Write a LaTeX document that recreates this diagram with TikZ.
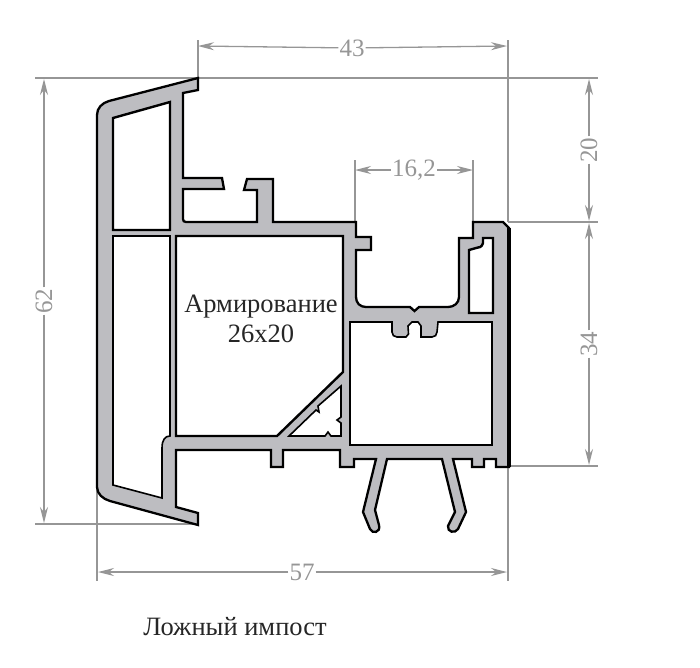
\documentclass[tikz,border=0pt]{standalone}
\usepackage{fontspec}
\setmainfont{Liberation Serif}
\usetikzlibrary{arrows.meta}
\definecolor{dimgray}{HTML}{969696}
\definecolor{profgray}{HTML}{BDBDC1}
\tikzset{
  profile/.style={draw=black, fill=profgray, line width=2.3pt, line join=miter},
  chamber/.style={draw=black, fill=white, line width=2.4pt, line join=miter},
  extline/.style={draw=dimgray, line width=1.3pt},
  dimline/.style={draw=dimgray, line width=1.3pt, -{Stealth[length=16pt,width=8pt]}},
  dimtext/.style={text=dimgray, font=\fontsize{25}{25}\selectfont, inner sep=1pt},
  labeltext/.style={text=black!85, font=\fontsize{26.5}{30}\selectfont, inner sep=0pt, align=center}
}
\begin{document}
\begin{tikzpicture}[x=1pt, y=-1pt]
    \useasboundingbox (0,0) rectangle (700,667);

    % Extension lines
    \draw[extline] (35,78) -- (598,78);
    \draw[extline] (35,524) -- (198,524);
    \draw[extline] (508,222) -- (598,222);
    \draw[extline] (508,466) -- (598,466);
    \draw[extline] (198,40) -- (198,78);
    \draw[extline] (508,40) -- (508,222);
    \draw[extline] (355,160) -- (355,222);
    \draw[extline] (473,160) -- (473,222);
    \draw[extline] (97,487) -- (97,581);
    \draw[extline] (508,466) -- (508,581);

    % Outer contour
    \draw[profile] (198,78) -- (198,90) -- (183,93) -- (183,178) -- (222,178) -- (224,189)
      -- (183,189) -- (183,219) .. controls (183,221) and (184,222) .. (186,222) -- (257,222)
      -- (257,190) -- (244,190) -- (247,179) -- (273,179) -- (273,222) -- (356,222) -- (356,237)
      -- (371,237) -- (371,250) -- (356,250) -- (356,297) .. controls (356,303) and (360,307) .. (366,307)
      -- (410,307) -- (414.5,311) -- (419,307) -- (448,307) .. controls (454,307) and (459,303) .. (459,297)
      -- (459,238) -- (473,238) -- (473,222) -- (503,222) -- (509,228) -- (509,467) -- (496,467)
      -- (496,459) -- (484,459) -- (484,467) -- (472,467) -- (472,459) -- (453,459) -- (466,512)
      -- (458,529) .. controls (455,534) and (447,532) .. (448,526) -- (455,512) -- (442,459)
      -- (387,459) -- (375,510) -- (379,525) .. controls (381,533) and (372,534) .. (370,529)
      -- (363,512) -- (376,459) -- (354,459) -- (354,467) -- (340,467) -- (340,450) -- (283,450)
      -- (283,467) -- (271,467) -- (271,450) -- (176,450) -- (176,507) -- (198,513) -- (198,525)
      -- (110,501) .. controls (103,499) and (97,494) .. (97,487) -- (97,115)
      .. controls (97,108) and (102,103) .. (109,101) -- cycle;

    % Thick right edge
    \draw[black, line width=3.5pt] (509,228) -- (509,467);

    % Chambers
    \draw[chamber] (113,118) -- (170,102) -- (170,230) -- (113,230) -- cycle;
    \draw[chamber, line width=1.6pt] (113,236) -- (170,236) -- (170,436) .. controls (165,436) and (162,440) .. (162,448)
      -- (162,498) -- (113,485) -- cycle;
    \draw[chamber] (176,236) -- (343,236) -- (343,372) -- (277,436) -- (176,436) -- cycle;
    \draw[chamber, line width=1.6pt] (289,436) -- (316,410) -- (319,412) -- (318,406) -- (341,386) -- (341,417)
      -- (337,420) -- (341,423) -- (341,436) -- (331,436) -- (328,432) -- (325,436) -- cycle;
    \draw[chamber, line width=1.6pt] (350,322) -- (392,322) -- (392,332) .. controls (392,335) and (394,337) .. (397,337)
      -- (406,337) -- (408.5,334) -- (408,326) -- (412,322) -- (418,322) -- (421,326) -- (421,337) -- (432,337)
      .. controls (435,337) and (437,335) .. (437,332) -- (438,322) -- (492,322) -- (492,445) -- (350,445) -- cycle;
    \draw[chamber] (469,313) -- (493,313) -- (493,238) -- (483,238) -- (483,243)
      .. controls (482,247) and (479,248) .. (476,248) -- (469,250) -- cycle;

    % Dimensions
    \node[dimtext] (t43) at (352,48) {43};
    \coordinate (a43l) at (198,46);
    \coordinate (a43r) at (507,46);
    \draw[dimline] (t43) -- (a43l);
    \draw[dimline] (t43) -- (a43r);

    \node[dimtext] (t162) at (414,170) {16,2};
    \coordinate (a162l) at (355,170);
    \coordinate (a162r) at (473,170);
    \draw[dimline] (t162) -- (a162l);
    \draw[dimline] (t162) -- (a162r);

    \node[dimtext, rotate=90] (t62) at (44,301) {62};
    \coordinate (a62t) at (44,79);
    \coordinate (a62b) at (44,523);
    \draw[dimline] (t62) -- (a62t);
    \draw[dimline] (t62) -- (a62b);

    \node[dimtext, rotate=90] (t20) at (589,150) {20};
    \coordinate (a20t) at (589,79);
    \coordinate (a20b) at (589,221);
    \draw[dimline] (t20) -- (a20t);
    \draw[dimline] (t20) -- (a20b);

    \node[dimtext, rotate=90] (t34) at (589,344) {34};
    \coordinate (a34t) at (589,223);
    \coordinate (a34b) at (589,465);
    \draw[dimline] (t34) -- (a34t);
    \draw[dimline] (t34) -- (a34b);

    \node[dimtext] (t57) at (302,572) {57};
    \coordinate (a57l) at (98,572);
    \coordinate (a57r) at (507,572);
    \draw[dimline] (t57) -- (a57l);
    \draw[dimline] (t57) -- (a57r);

    % Labels
    \node[labeltext] (armir) at (261,319) {Армирование\\26x20};
    \node[labeltext] (title) at (235,627) {Ложный импост};
\end{tikzpicture}
\end{document}
